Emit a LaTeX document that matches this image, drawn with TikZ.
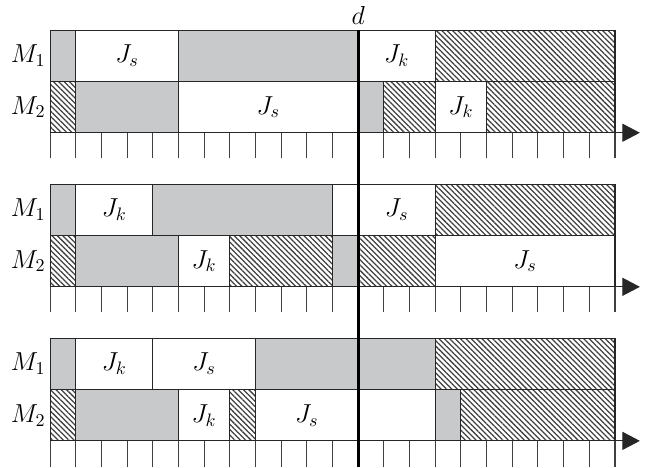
\documentclass[tikz,border=0pt]{standalone}
\usepackage{tikz}
\usetikzlibrary{arrows.meta, patterns.meta}
\definecolor{idlegray}{RGB}{200,201,203}

\begin{document}
\begin{tikzpicture}[
  x=0.5cm, y=0.5cm,
  every node/.style={font=\fontsize{14.5}{17}\selectfont},
  box/.style={draw=black!85, line width=0.6pt},
  idle/.style={box, fill=idlegray},
  busy/.style={box, fill=white},
  blocked/.style={box, pattern={Lines[angle=-45, distance=2.1pt, line width=0.7pt]}, pattern color=black!75},
  tick/.style={draw=black!75, line width=0.6pt},
  axis/.style={draw=black!85, line width=0.6pt, -{Triangle[length=9.7pt, width=10pt]}},
  deadline/.style={draw=black, line width=1.8pt}
]
\useasboundingbox (-1.95,-0.05) rectangle (23.17,18.17);

% Time axes with unit ticks
\foreach \b in {0,6,12} {
  \foreach \i in {0,...,22} \draw[tick] (\i,\b) -- (\i,\b+1);
  \draw[axis] (0,\b+1) -- (22.97,\b+1);
}

% Schedule 1 (top)
\draw[idle] (0,15) rectangle (1,17);
\draw[busy] (1,15) rectangle (5,17);
\draw[idle] (5,15) rectangle (12,17);
\draw[busy] (12,15) rectangle (15,17);
\draw[blocked] (15,15) rectangle (22,17);
\draw[blocked] (0,13) rectangle (1,15);
\draw[idle] (1,13) rectangle (5,15);
\draw[busy] (5,13) rectangle (12,15);
\draw[idle] (12,13) rectangle (13,15);
\draw[blocked] (13,13) rectangle (15,15);
\draw[busy] (15,13) rectangle (17,15);
\draw[blocked] (17,13) rectangle (22,15);
\node (ma1) at (-0.85,16) {$M_1$};
\node (mb1) at (-0.85,14) {$M_2$};
\node (js1a) at (3,16) {$J_s$};
\node (jk1a) at (13.5,16) {$J_k$};
\node (js1b) at (8.5,14) {$J_s$};
\node (jk1b) at (16,14) {$J_k$};

% Schedule 2 (middle)
\draw[idle] (0,9) rectangle (1,11);
\draw[busy] (1,9) rectangle (4,11);
\draw[idle] (4,9) rectangle (11,11);
\draw[busy] (11,9) rectangle (12,11);
\draw[busy] (12,9) rectangle (15,11);
\draw[blocked] (15,9) rectangle (22,11);
\draw[blocked] (0,7) rectangle (1,9);
\draw[idle] (1,7) rectangle (5,9);
\draw[busy] (5,7) rectangle (7,9);
\draw[blocked] (7,7) rectangle (11,9);
\draw[idle] (11,7) rectangle (12,9);
\draw[blocked] (12,7) rectangle (15,9);
\draw[busy] (15,7) rectangle (22,9);
\node (ma2) at (-0.85,10) {$M_1$};
\node (mb2) at (-0.85,8) {$M_2$};
\node (jk2a) at (2.5,10) {$J_k$};
\node (js2a) at (13.5,10) {$J_s$};
\node (jk2b) at (6,8) {$J_k$};
\node (js2b) at (18.5,8) {$J_s$};

% Schedule 3 (bottom)
\draw[idle] (0,3) rectangle (1,5);
\draw[busy] (1,3) rectangle (4,5);
\draw[busy] (4,3) rectangle (8,5);
\draw[idle] (8,3) rectangle (15,5);
\draw[blocked] (15,3) rectangle (22,5);
\draw[blocked] (0,1) rectangle (1,3);
\draw[idle] (1,1) rectangle (5,3);
\draw[busy] (5,1) rectangle (7,3);
\draw[blocked] (7,1) rectangle (8,3);
\draw[busy] (8,1) rectangle (15,3);
\draw[idle] (15,1) rectangle (16,3);
\draw[blocked] (16,1) rectangle (22,3);
\node (ma3) at (-0.85,4) {$M_1$};
\node (mb3) at (-0.85,2) {$M_2$};
\node (jk3a) at (2.5,4) {$J_k$};
\node (js3a) at (6,4) {$J_s$};
\node (jk3b) at (6,2) {$J_k$};
\node (js3b) at (10,2) {$J_s$};

% Deadline
\draw[deadline] (12,0) -- (12,17);
\node[anchor=south, inner sep=3pt] (dl) at (12,17) {$d$};
\end{tikzpicture}
\end{document}
